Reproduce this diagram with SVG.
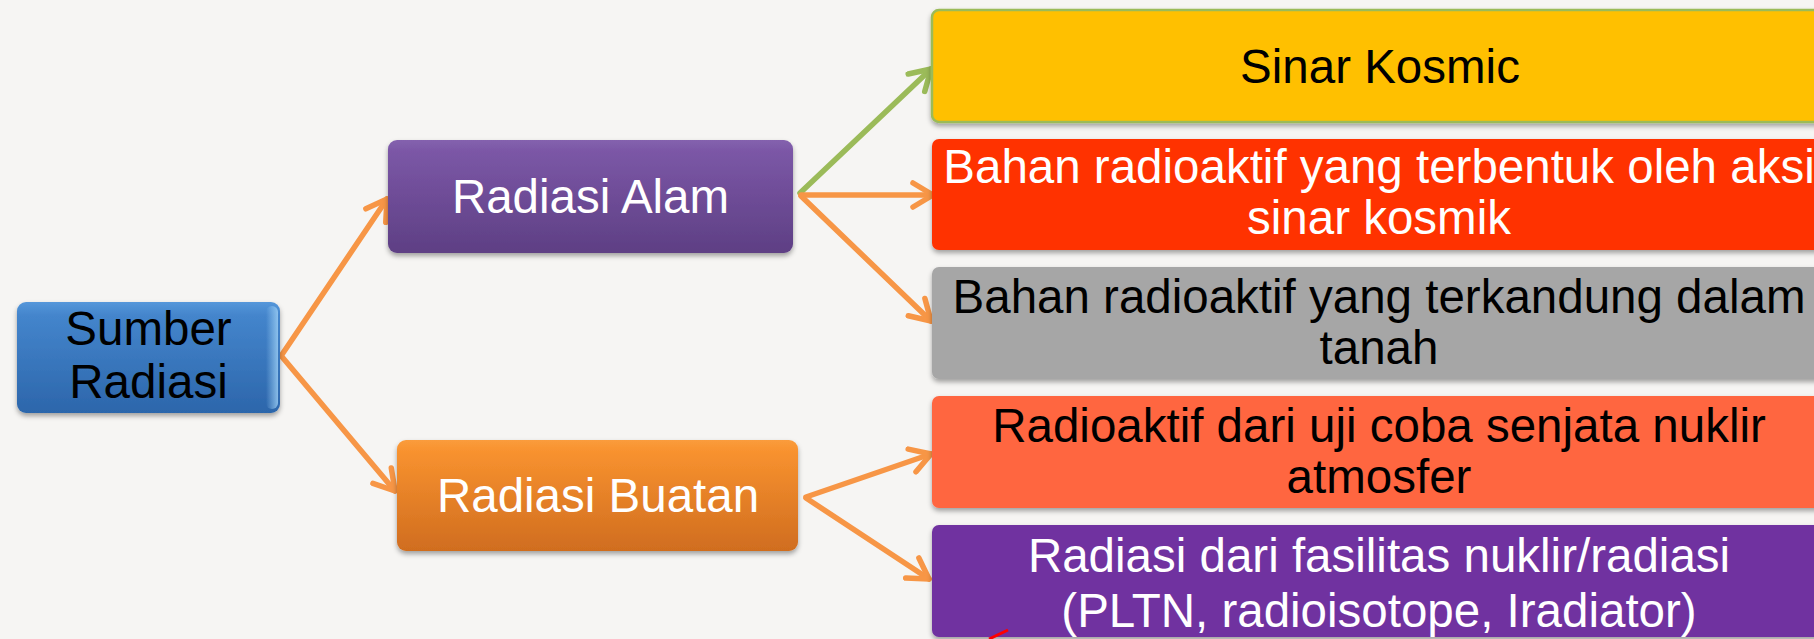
<svg xmlns="http://www.w3.org/2000/svg" width="1814" height="639" viewBox="0 0 1814 639">
<defs>
<style>
.t{font-family:"Liberation Sans",Arial,sans-serif;text-anchor:middle}
.l{font-size:47.5px}
.r{font-size:47.5px}
.w{fill:#ffffff}
.k{fill:#000000}
.ao{fill:none;stroke:#F79646;stroke-width:5.5;stroke-linecap:round}
.ag{fill:none;stroke:#9BBB59;stroke-width:5.5;stroke-linecap:round}
</style>
<linearGradient id="gBlue" x1="0" y1="0" x2="0" y2="1">
<stop offset="0" stop-color="#5597DA"/><stop offset="0.12" stop-color="#4485CC"/><stop offset="1" stop-color="#2C66AB"/>
</linearGradient>
<linearGradient id="gEdge" x1="0" y1="0" x2="1" y2="0">
<stop offset="0" stop-color="#9ED0F5" stop-opacity="0"/><stop offset="1" stop-color="#9ED0F5" stop-opacity="0.8"/>
</linearGradient>
<linearGradient id="gPurple" x1="0" y1="0" x2="0" y2="1">
<stop offset="0" stop-color="#8462AE"/><stop offset="0.1" stop-color="#7B57A6"/><stop offset="1" stop-color="#5E3F84"/>
</linearGradient>
<linearGradient id="gOrange" x1="0" y1="0" x2="0" y2="1">
<stop offset="0" stop-color="#FA9C3C"/><stop offset="0.1" stop-color="#F8922F"/><stop offset="1" stop-color="#D06D1F"/>
</linearGradient>
<filter id="sh" x="-5%" y="-10%" width="110%" height="130%">
<feDropShadow dx="0" dy="3" stdDeviation="2.5" flood-color="#000000" flood-opacity="0.35"/>
</filter>
<marker id="mo" viewBox="-26 -15 30 30" refX="0" refY="0" markerWidth="30" markerHeight="30" markerUnits="userSpaceOnUse" orient="auto">
<path d="M-20,-12 L0,0 L-20,12" fill="none" stroke="#F79646" stroke-width="5.5" stroke-linecap="round" stroke-linejoin="round"/>
</marker>
<marker id="mg" viewBox="-26 -15 30 30" refX="0" refY="0" markerWidth="30" markerHeight="30" markerUnits="userSpaceOnUse" orient="auto">
<path d="M-20,-12 L0,0 L-20,12" fill="none" stroke="#9BBB59" stroke-width="5.5" stroke-linecap="round" stroke-linejoin="round"/>
</marker>
</defs>
<rect x="0" y="0" width="1814" height="639" fill="#F6F5F3"/>

<g id="connectors">
<line class="ao" x1="281" y1="356" x2="387" y2="199" marker-end="url(#mo)"/>
<line class="ao" x1="283" y1="358" x2="395" y2="491" marker-end="url(#mo)"/>
<line class="ag" x1="800" y1="193" x2="931" y2="69" marker-end="url(#mg)"/>
<line class="ao" x1="801" y1="195" x2="933" y2="195" marker-end="url(#mo)"/>
<line class="ao" x1="801" y1="196" x2="931" y2="321" marker-end="url(#mo)"/>
<line class="ao" x1="806" y1="497" x2="931" y2="454" marker-end="url(#mo)"/>
<line class="ao" x1="806" y1="498" x2="929" y2="579" marker-end="url(#mo)"/>
</g>

<g id="sumber-radiasi">
<rect x="17" y="302" width="263" height="111" rx="9" fill="url(#gBlue)" filter="url(#sh)"/>
<rect x="266" y="306" width="12" height="103" rx="6" fill="url(#gEdge)"/>
<text class="t l k" x="148.5" y="345">Sumber</text>
<text class="t l k" x="148.5" y="398">Radiasi</text>
</g>

<g id="radiasi-alam">
<rect x="388" y="140" width="405" height="113" rx="9" fill="url(#gPurple)" filter="url(#sh)"/>
<text class="t r w" x="590.5" y="213">Radiasi Alam</text>
</g>

<g id="radiasi-buatan">
<rect x="397" y="440" width="401" height="111" rx="9" fill="url(#gOrange)" filter="url(#sh)"/>
<text class="t r w" x="598" y="512">Radiasi Buatan</text>
</g>

<g id="sinar-kosmic">
<rect x="932" y="10" width="900" height="112" rx="7" fill="#FFC000" stroke="#9BBB59" stroke-width="2.5" filter="url(#sh)"/>
<text class="t r k" x="1380" y="83">Sinar Kosmic</text>
</g>

<g id="bahan-kosmik">
<rect x="932" y="139" width="900" height="111" rx="7" fill="#FF3300" filter="url(#sh)"/>
<text class="t r w" x="1379" y="183">Bahan radioaktif yang terbentuk oleh aksi</text>
<text class="t r w" x="1379" y="234">sinar kosmik</text>
</g>

<g id="bahan-tanah">
<rect x="932" y="267" width="900" height="112" rx="7" fill="#A6A6A6" filter="url(#sh)"/>
<text class="t r k" x="1379" y="313">Bahan radioaktif yang terkandung dalam</text>
<text class="t r k" x="1379" y="364">tanah</text>
</g>

<g id="uji-coba">
<rect x="932" y="396" width="900" height="112" rx="7" fill="#FF6640" filter="url(#sh)"/>
<text class="t r k" x="1379" y="442">Radioaktif dari uji coba senjata nuklir</text>
<text class="t r k" x="1379" y="493">atmosfer</text>
</g>

<g id="fasilitas-nuklir">
<rect x="932" y="525" width="900" height="112" rx="7" fill="#7030A0" filter="url(#sh)"/>
<text class="t r w" x="1379" y="572">Radiasi dari fasilitas nuklir/radiasi</text>
<text class="t r w" x="1379" y="627">(PLTN, radioisotope, Iradiator)</text>
</g>

<line x1="989" y1="639" x2="1008" y2="630" stroke="#FF0000" stroke-width="3"/>
</svg>
